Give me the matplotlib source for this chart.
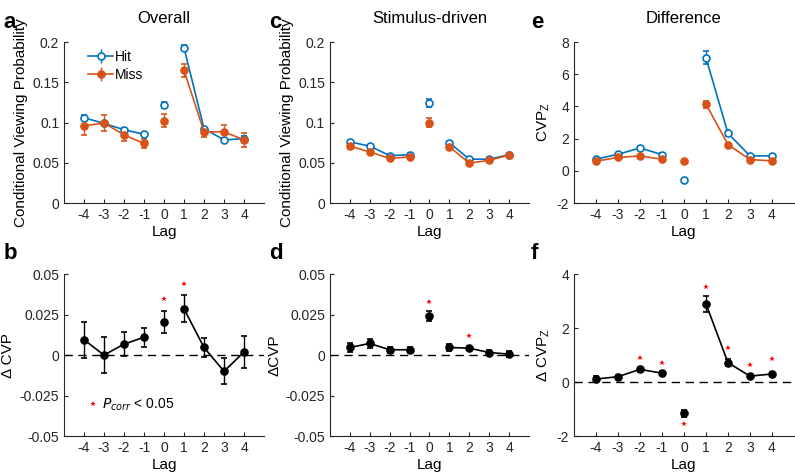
import numpy as np
import matplotlib
matplotlib.use('Agg')
import matplotlib.pyplot as plt

plt.rcParams['font.family'] = ['Liberation Sans', 'DejaVu Sans']
plt.rcParams['axes.edgecolor'] = '#262626'
plt.rcParams['xtick.color'] = '#262626'
plt.rcParams['ytick.color'] = '#262626'

lags = [-4, -3, -2, -1, 0, 1, 2, 3, 4]
tick_labels = ['-4', '-3', '-2', '-1', '0', '1', '2', '3', '4']

# panel a - overall
hit_all = [0.106, 0.099, 0.091, 0.0855, 0.122, 0.193, 0.0925, 0.0785, 0.080]
hit_all_err = [0.003, 0.002, 0.002, 0.002, 0.004, 0.003, 0.002, 0.002, 0.003]
miss_all = [0.096, 0.0995, 0.0847, 0.074, 0.1025, 0.165, 0.0885, 0.0885, 0.0785]
miss_all_err = [0.011, 0.010, 0.008, 0.006, 0.008, 0.008, 0.006, 0.008, 0.009]

# panel b
dcvp_all = [0.0095, 0.0, 0.0068, 0.011, 0.0204, 0.0286, 0.0047, -0.010, 0.0019]
dcvp_all_err = [0.011, 0.011, 0.0076, 0.006, 0.007, 0.0083, 0.006, 0.008, 0.010]
star_b_lags = [0, 1]
star_b_y = [0.0346, 0.0438]

# panel c - stimulus-driven
hit_stim = [0.076, 0.0707, 0.059, 0.060, 0.1248, 0.075, 0.0545, 0.0545, 0.060]
hit_stim_err = [0.002, 0.002, 0.002, 0.002, 0.005, 0.002, 0.002, 0.002, 0.002]
miss_stim = [0.0707, 0.0636, 0.0554, 0.0574, 0.100, 0.070, 0.0496, 0.053, 0.0595]
miss_stim_err = [0.003, 0.002, 0.002, 0.002, 0.006, 0.002, 0.002, 0.002, 0.002]

# panel d
dcvp_stim = [0.0047, 0.0072, 0.0033, 0.0033, 0.024, 0.0047, 0.0043, 0.0016, 0.0006]
dcvp_stim_err = [0.003, 0.003, 0.002, 0.002, 0.003, 0.002, 0.0012, 0.0015, 0.002]
star_d_lags = [0, 2]
star_d_y = [0.0327, 0.0119]

# panel e - difference
hit_z = [0.72, 1.03, 1.42, 1.01, -0.56, 7.03, 2.33, 0.93, 0.93]
hit_z_err = [0.08, 0.08, 0.1, 0.08, 0.08, 0.4, 0.15, 0.08, 0.08]
miss_z = [0.6, 0.83, 0.93, 0.72, 0.6, 4.15, 1.63, 0.7, 0.62]
miss_z_err = [0.08, 0.06, 0.06, 0.06, 0.06, 0.22, 0.1, 0.06, 0.06]

# panel f
dz = [0.11, 0.2, 0.47, 0.33, -1.16, 2.9, 0.72, 0.22, 0.3]
dz_err = [0.1, 0.06, 0.1, 0.08, 0.12, 0.3, 0.12, 0.05, 0.06]
star_f_lags = [-2, -1, 0, 1, 2, 3, 4]
star_f_y = [0.9, 0.72, -1.56, 3.53, 1.26, 0.63, 0.85]

blue = '#0072BD'
red = '#D95319'


def draw_series(ax, y, err, color, filled, label=None):
    x = np.array(lags)
    y = np.array(y)
    err = np.array(err)
    mfc = color if filled else 'white'
    kw = dict(color=color, marker='o', ms=5, mfc=mfc, mec=color, mew=1.2,
              capsize=2, elinewidth=1, lw=1.2)
    for idx in [x < 0, x == 0, x > 0]:
        h = ax.errorbar(x[idx], y[idx], yerr=err[idx], **kw)
    # proxy for legend
    if label:
        ax.errorbar([], [], yerr=[], label=label, **kw)


def style(ax, ylim, yticks, ylabels):
    ax.set_xlim(-5, 5)
    ax.set_ylim(*ylim)
    ax.set_xticks(lags)
    ax.set_xticklabels(tick_labels)
    ax.set_yticks(yticks)
    ax.set_yticklabels(ylabels)
    ax.spines['top'].set_visible(False)
    ax.spines['right'].set_visible(False)
    ax.tick_params(direction='in', length=3, labelsize=10)
    ax.set_xlabel('Lag', fontsize=11, labelpad=2)


def stars(ax, xs, ys):
    ax.plot(xs, ys, ls='none', marker='*', color='red', ms=4, mew=0)


fig = plt.figure(figsize=(7.95, 4.76), dpi=100)

top_b, top_h = 0.5735, 0.338
bot_b, bot_h = 0.084, 0.340

ax_a = fig.add_axes([0.0805, top_b, 0.2516, top_h])
ax_b = fig.add_axes([0.0805, bot_b, 0.2516, bot_h])
ax_c = fig.add_axes([0.415, top_b, 0.2503, top_h])
ax_d = fig.add_axes([0.415, bot_b, 0.2503, bot_h])
ax_e = fig.add_axes([0.722, top_b, 0.2767, top_h])
ax_f = fig.add_axes([0.722, bot_b, 0.2767, bot_h])

cvp_ticks = [0, 0.05, 0.1, 0.15, 0.2]
cvp_labels = ['0', '0.05', '0.1', '0.15', '0.2']
d_ticks = [-0.05, -0.025, 0, 0.025, 0.05]
d_labels = ['-0.05', '-0.025', '0', '0.025', '0.05']

# a
draw_series(ax_a, hit_all, hit_all_err, blue, False, 'Hit')
draw_series(ax_a, miss_all, miss_all_err, red, True, 'Miss')
style(ax_a, (0, 0.2), cvp_ticks, cvp_labels)
ax_a.set_ylabel('Conditional Viewing Probability', fontsize=11, labelpad=3)
ax_a.set_title('Overall', fontsize=12, pad=14)
ax_a.legend(loc='upper left', bbox_to_anchor=(0.06, 1.03), frameon=False,
            fontsize=10, handlelength=1.8, handletextpad=0.1, labelspacing=0.3)

# b
draw_series(ax_b, dcvp_all, dcvp_all_err, 'black', True)
ax_b.axhline(0, color='black', ls=(0, (6, 4)), lw=1)
stars(ax_b, star_b_lags, star_b_y)
style(ax_b, (-0.05, 0.05), d_ticks, d_labels)
ax_b.set_ylabel('\u0394 CVP', fontsize=11, labelpad=3)
ax_b.plot([-3.55], [-0.0305], ls='none', marker='*', color='red', ms=4, mew=0)
ax_b.text(-3.1, -0.0305, r'$P_{corr}$ < 0.05', fontsize=10, va='center')

# c
draw_series(ax_c, hit_stim, hit_stim_err, blue, False)
draw_series(ax_c, miss_stim, miss_stim_err, red, True)
style(ax_c, (0, 0.2), cvp_ticks, cvp_labels)
ax_c.set_ylabel('Conditional Viewing Probability', fontsize=11, labelpad=3)
ax_c.set_title('Stimulus-driven', fontsize=12, pad=14)

# d
draw_series(ax_d, dcvp_stim, dcvp_stim_err, 'black', True)
ax_d.axhline(0, color='black', ls=(0, (6, 4)), lw=1)
stars(ax_d, star_d_lags, star_d_y)
style(ax_d, (-0.05, 0.05), d_ticks, d_labels)
ax_d.set_ylabel('\u0394CVP', fontsize=11, labelpad=3)

# e
draw_series(ax_e, hit_z, hit_z_err, blue, False)
draw_series(ax_e, miss_z, miss_z_err, red, True)
style(ax_e, (-2, 8), [-2, 0, 2, 4, 6, 8], ['-2', '0', '2', '4', '6', '8'])
ax_e.set_ylabel('CVP$_\\mathregular{Z}$', fontsize=11, labelpad=3)
ax_e.set_title('Difference', fontsize=12, pad=14)

# f
draw_series(ax_f, dz, dz_err, 'black', True)
ax_f.axhline(0, color='black', ls=(0, (6, 4)), lw=1)
stars(ax_f, star_f_lags, star_f_y)
style(ax_f, (-2, 4), [-2, 0, 2, 4], ['-2', '0', '2', '4'])
ax_f.set_ylabel('\u0394 CVP$_\\mathregular{Z}$', fontsize=11, labelpad=3)

for letter, x, y in [('a', 0.004, 0.975), ('b', 0.004, 0.49),
                     ('c', 0.338, 0.975), ('d', 0.338, 0.49),
                     ('e', 0.668, 0.975), ('f', 0.668, 0.49)]:
    fig.text(x, y, letter, fontsize=16, fontweight='bold', va='top')

fig.savefig('out.png', dpi=100)
